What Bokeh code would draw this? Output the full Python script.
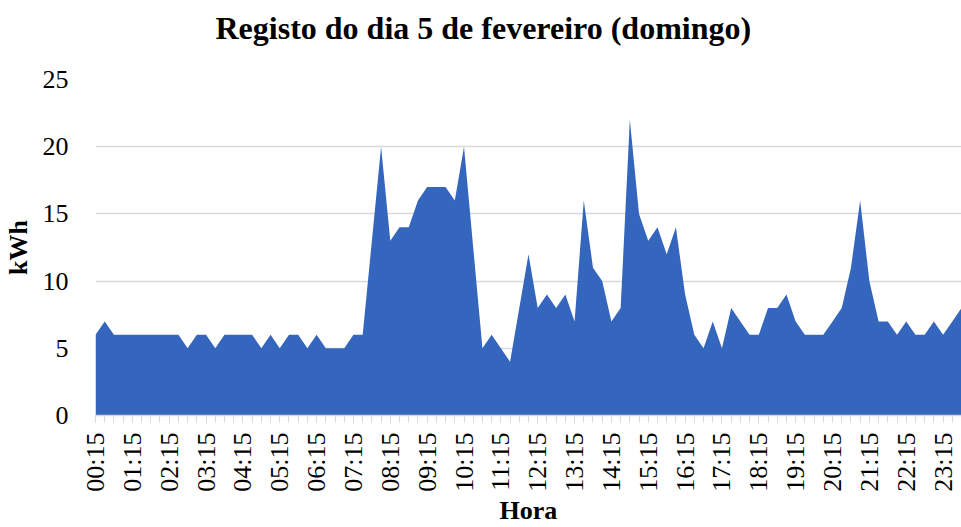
import math
from bokeh.plotting import figure
from bokeh.models import Range1d, FixedTicker, ColumnDataSource, Title
from bokeh.embed import file_html
from bokeh.resources import INLINE

# ---- data -------------------------------------------------------------
# 15-minute readings from 00:15 to 23:45 (kWh)
times = [f"{(15 * (k + 1)) // 60:02d}:{(15 * (k + 1)) % 60:02d}" for k in range(95)]
kwh = [
    6, 7, 6, 6, 6, 6, 6, 6, 6, 6,
    5, 6, 6, 5, 6, 6, 6, 6, 5, 6,
    5, 6, 6, 5, 6, 5, 5, 5, 6, 6,
    13, 20, 13, 14, 14, 16, 17, 17, 17, 16,
    20, 12.5, 5, 6, 5, 4, 8, 12, 8, 9,
    8, 9, 7, 16, 11, 10, 7, 8, 22, 15,
    13, 14, 12, 14, 9, 6, 5, 7, 5, 8,
    7, 6, 6, 8, 8, 9, 7, 6, 6, 6,
    7, 8, 11, 16, 10, 7, 7, 6, 7, 6,
    6, 7, 6, 7, 8,
]
y_ticks = [0, 5, 10, 15, 20, 25]
title_text = "Registo do dia 5 de fevereiro (domingo)"
x_title = "Hora"
y_title = "kWh"

idx = list(range(len(kwh)))
label_idx = idx[::4]

src = ColumnDataSource(data=dict(x=idx, y=kwh, t=times))

FONT = "Liberation Serif"
GRID = "#d9d9d9"

p = figure(width=961, height=527, output_backend="svg", toolbar_location=None,
           x_range=Range1d(0, len(kwh) - 1), y_range=Range1d(0, 25),
           min_border_left=93, min_border_right=0, min_border_top=79,
           min_border_bottom=112)
p.title_location = None
p.outline_line_color = None
p.background_fill_color = "white"

p.varea(x="x", y1=0, y2="y", source=src, fill_color="#3466bd")

# title (a blank spacer sits between the title and the plot area)
spacer = Title(text="\u00a0", text_font_size="1px", standoff=31)
main_title = Title(text=title_text, text_font=FONT, text_font_size="32px",
                   text_font_style="bold", text_color="black",
                   align="left", offset=120, standoff=0)
p.add_layout(spacer, "above")
p.add_layout(main_title, "above")

# y axis
ya = p.yaxis[0]
ya.ticker = FixedTicker(ticks=y_ticks)
ya.axis_line_color = None
ya.major_tick_line_color = None
ya.minor_tick_line_color = None
ya.major_tick_out = 0
ya.major_tick_in = 0
ya.major_label_standoff = 27
ya.major_label_text_font = FONT
ya.major_label_text_font_size = "26px"
ya.major_label_text_color = "black"
ya.axis_label = y_title
ya.axis_label_text_font = FONT
ya.axis_label_text_font_size = "26px"
ya.axis_label_text_font_style = "bold"
ya.axis_label_text_color = "black"
ya.axis_label_standoff = 7

# x axis
xa = p.xaxis[0]
xa.ticker = FixedTicker(ticks=label_idx, minor_ticks=idx)
xa.major_label_overrides = {i: times[i] for i in label_idx}
xa.major_label_orientation = math.pi / 2
xa.axis_line_color = GRID
xa.axis_line_width = 1.5
xa.major_tick_line_color = GRID
xa.minor_tick_line_color = GRID
xa.major_tick_out = 7
xa.major_tick_in = 0
xa.minor_tick_out = 7
xa.minor_tick_in = 0
xa.major_label_standoff = 10
xa.major_label_text_font = FONT
xa.major_label_text_font_size = "26px"
xa.major_label_text_color = "black"
xa.axis_label = x_title
xa.axis_label_text_font = FONT
xa.axis_label_text_font_size = "26px"
xa.axis_label_text_font_style = "bold"
xa.axis_label_text_color = "black"
xa.axis_label_standoff = 1

p.xgrid.grid_line_color = None
p.ygrid.grid_line_color = GRID
p.ygrid.grid_line_width = 1.5
p.ygrid.ticker = FixedTicker(ticks=y_ticks)

open("out.html", "w").write(file_html(p, INLINE))
